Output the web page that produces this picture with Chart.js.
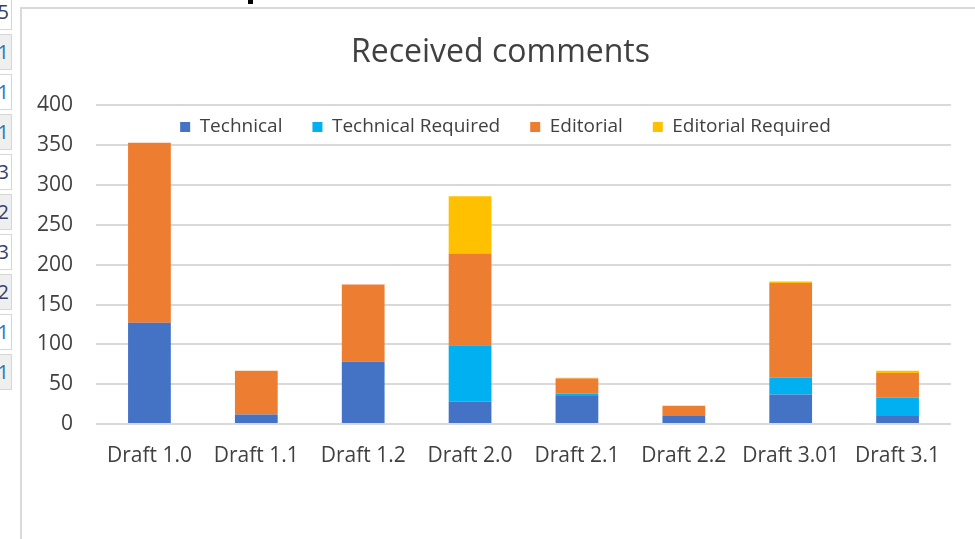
<!DOCTYPE html>
<html>
<head>
<meta charset="utf-8">
<script src="https://cdn.jsdelivr.net/npm/chart.js@4.4.1/dist/chart.umd.min.js"></script>
<style>
  html, body { margin: 0; padding: 0; background: #fff; }
  body { width: 975px; height: 539px; position: relative; overflow: hidden; }
  #frame { position: absolute; left: 20px; top: 7px; width: 1000px; height: 600px;
           border-left: 2px solid #d9d9d9; border-top: 2px solid #d9d9d9; }
  #cells { position: absolute; left: 0; top: 0; width: 12px; height: 400px; overflow: hidden; }
  .cell { position: absolute; left: -30px; width: 38px; height: 34px; border: 1px solid #d6d6d6;
          font: 20px "Open Sans", sans-serif; text-align: right; line-height: 34px; padding-right: 2px; }
  .cell.alt { background: #efefef; }
  #stub { position: absolute; left: 248px; top: 0; width: 5px; height: 4px; background: #000; }
  #wrap { position: absolute; left: 0; top: 0; width: 975px; height: 539px; }
</style>
</head>
<body>
<div id="cells"></div>
<div id="stub"></div>
<div id="frame"></div>
<div id="wrap"><canvas id="chart"></canvas></div>
<script>
// spreadsheet cells peeking in at the left edge
const cellText = ['5', '1', '1', '1', '3', '2', '3', '2', '1', '1'];

const categories = ['Draft 1.0', 'Draft 1.1', 'Draft 1.2', 'Draft 2.0', 'Draft 2.1', 'Draft 2.2', 'Draft 3.01', 'Draft 3.1'];
const technical = [127, 12, 78, 28, 35, 10, 37, 10];
const technicalRequired = [0, 0, 0, 71, 3, 0, 21, 23];
const editorial = [226, 55, 97, 115, 19, 13, 119, 31];
const editorialRequired = [0, 0, 0, 72, 1, 0, 2, 3];
const yTicks = [0, 50, 100, 150, 200, 250, 300, 350, 400];

const cellBox = document.getElementById('cells');
cellText.forEach((t, i) => {
    const d = document.createElement('div');
    d.className = 'cell' + (i % 2 === 1 ? ' alt' : '');
    d.style.top = (i * 40 - 6) + 'px';
    d.style.color = t === '1' ? '#2e75b6' : '#34406a';
    d.textContent = t;
    cellBox.appendChild(d);
});

const font = '"Open Sans", sans-serif';

// Excel centres title/legend on the whole frame and keeps the legend inside the plot
const nudge = {
    id: 'nudge',
    afterUpdate(chart) {
        const t = chart.titleBlock;
        t.left += 25; t.right += 25;
        t.top += 34; t.bottom += 34;
        const lg = chart.legend;
        lg.left += 30; lg.right += 30;
        lg.top += 41; lg.bottom += 41;
        lg.adjustHitBoxes();
    }
};

const ctx = document.getElementById('chart').getContext('2d');
new Chart(ctx, {
    type: 'bar',
    data: {
        labels: categories,
        datasets: [
            { label: 'Technical', data: technical, backgroundColor: '#4472c4' },
            { label: 'Technical Required', data: technicalRequired, backgroundColor: '#00b0f0' },
            { label: 'Editorial', data: editorial, backgroundColor: '#ed7d31' },
            { label: 'Editorial Required', data: editorialRequired, backgroundColor: '#ffc000' }
        ]
    },
    options: {
        responsive: true,
        maintainAspectRatio: false,
        animation: false,
        layout: { padding: { left: 0, right: 24, top: 0, bottom: 0 } },
        datasets: { bar: { categoryPercentage: 1, barPercentage: 0.4, borderWidth: 0 } },
        scales: {
            x: {
                stacked: true,
                grid: { display: false, drawTicks: false },
                border: { display: false },
                ticks: { color: '#404040', font: { family: font, size: 21 }, padding: 19, maxRotation: 0 },
                afterFit: (s) => { s.height = 115; }
            },
            y: {
                stacked: true,
                min: 0,
                max: 400,
                afterBuildTicks: (s) => { s.ticks = yTicks.map(v => ({ value: v })); },
                grid: { color: '#d9d9d9', lineWidth: 2, drawTicks: false },
                border: { display: false },
                ticks: { color: '#404040', font: { family: font, size: 21 }, padding: 23 },
                afterFit: (s) => { s.width = 96; }
            }
        },
        plugins: {
            title: {
                display: true,
                text: 'Received comments',
                color: '#404040',
                font: { family: font, size: 32, weight: 'normal' },
                padding: { top: 0, bottom: 8 }
            },
            legend: {
                position: 'top',
                labels: {
                    color: '#404040',
                    font: { family: font, size: 19 },
                    boxWidth: 10,
                    boxHeight: 10,
                    padding: 30
                }
            },
            tooltip: { enabled: false }
        }
    },
    plugins: [nudge]
});
</script>
</body>
</html>
